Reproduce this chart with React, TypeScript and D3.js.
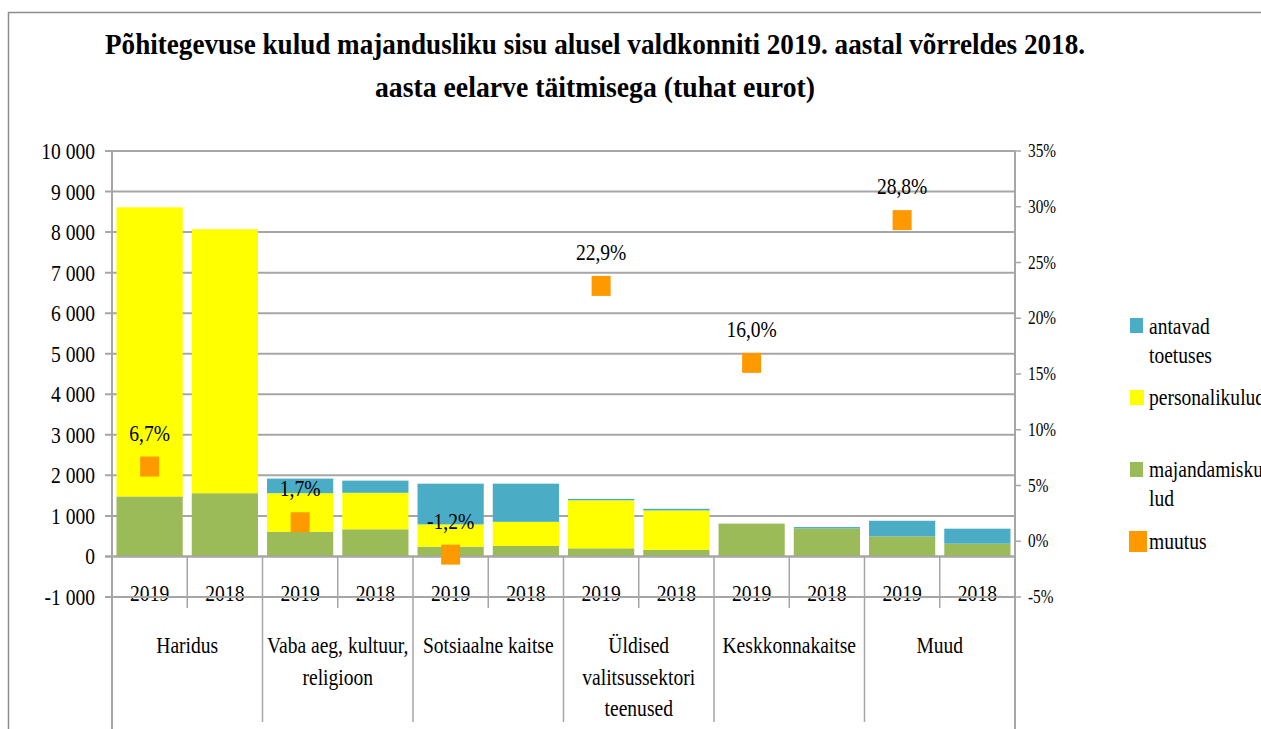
import React from "react";
import * as d3 from "d3";

const categoryLines: string[][] = [
  ["Haridus"],
  ["Vaba aeg, kultuur,", "religioon"],
  ["Sotsiaalne kaitse"],
  ["Üldised", "valitsussektori", "teenused"],
  ["Keskkonnakaitse"],
  ["Muud"],
];
const years = ["2019", "2018"];
// 12 bars: for each category, 2019 then 2018
const majandamiskulud = [1480, 1560, 610, 670, 240, 260, 200, 165, 810, 690, 495, 315];
const personalikulud = [7130, 6510, 950, 900, 550, 595, 1185, 970, 0, 0, 0, 0];
const antavadToetused = [0, 0, 360, 300, 1005, 940, 35, 40, 0, 35, 385, 370];
const muutus = [6.7, 1.7, -1.2, 22.9, 16.0, 28.8];
const leftTicks = [-1000, 0, 1000, 2000, 3000, 4000, 5000, 6000, 7000, 8000, 9000, 10000];
const rightTicks = [-5, 0, 5, 10, 15, 20, 25, 30, 35];

const W = 1261;
const H = 729;
const PL = 112;
const PR = 1015;
const PT = 151;
const PB = 597;
const FONT = "Liberation Serif, Times New Roman, Times, DejaVu Serif, serif";
const SX = 0.85;
const GRID = "#a6a6a6";

const C_BLUE = "#4bacc6";
const C_YEL = "#ffff00";
const C_GRN = "#9bbb59";
const C_ORG = "#ff9900";

function T(props: { x: number; y: number; size: number; anchor?: string; children: React.ReactNode; weight?: string }) {
  return (
    <text
      transform={`translate(${props.x},${props.y}) scale(${SX},1)`}
      style={{ fontFamily: FONT, fontSize: props.size + "px", fontWeight: props.weight || "normal" }}
      textAnchor={props.anchor || "start"}
      fill="#000"
    >
      {props.children}
    </text>
  );
}

export default function App() {
  const n = categoryLines.length * years.length;
  const x = d3.scaleBand<number>().domain(d3.range(n)).range([PL, PR]).padding(0);
  const step = x.step();
  const barW = step * 0.88;
  const yL = d3.scaleLinear().domain([-1000, 10000]).range([PB, PT]);
  const yR = d3.scaleLinear().domain([-5, 35]).range([PB, PT]);
  const fmtL = (v: number) => {
    const s = d3.format(",")(Math.abs(v)).replace(/,/g, " ");
    return (v < 0 ? "-" : "") + s;
  };
  const fmtPct = (v: number) =>
    (v < 0 ? "-" : "") + d3.format(".1f")(Math.abs(v)).replace(".", ",") + "%";

  const stack = d3.range(n).map((i) => {
    const g = majandamiskulud[i];
    const p = personalikulud[i];
    const b = antavadToetused[i];
    return [
      { y0: 0, y1: g, c: C_GRN },
      { y0: g, y1: g + p, c: C_YEL },
      { y0: g + p, y1: g + p + b, c: C_BLUE },
    ];
  });

  const y0 = yL(0);
  const groupW = step * 2;
  const mk = 19;
  const mh = 20;

  return (
    <svg
      width={W}
      height={H}
      style={{ position: "absolute", left: 0, top: 0, background: "#fff" }}
    >
      <rect x={0} y={0} width={W} height={H} fill="#fff" />
      {/* outer frame */}
      <rect x={8.5} y={12.5} width={W + 20} height={H + 20} fill="none" stroke="#8c8c8c" strokeWidth={1.5} />

      {/* title */}
      <text x={595} y={54} style={{ fontFamily: FONT, fontSize: "29px", fontWeight: "bold" }} textAnchor="middle" textLength={980} lengthAdjust="spacingAndGlyphs">
        Põhitegevuse kulud majandusliku sisu alusel valdkonniti 2019. aastal võrreldes 2018.
      </text>
      <text x={595} y={97} style={{ fontFamily: FONT, fontSize: "29px", fontWeight: "bold" }} textAnchor="middle" textLength={440} lengthAdjust="spacingAndGlyphs">
        aasta eelarve täitmisega (tuhat eurot)
      </text>

      {/* left gridlines + ticks */}
      {leftTicks.map((t) => (
        <g key={"l" + t}>
          <line x1={PL - 7} x2={PR} y1={yL(t)} y2={yL(t)} stroke={GRID} strokeWidth={2} />
          <T x={95} y={yL(t) + 8} size={23} anchor="end">{fmtL(t)}</T>
        </g>
      ))}
      {/* right ticks */}
      {rightTicks.map((t) => (
        <g key={"r" + t}>
          <line x1={PR} x2={PR + 6} y1={yR(t)} y2={yR(t)} stroke={GRID} strokeWidth={1.5} />
          <T x={1028} y={yR(t) + 6} size={18}>{t + "%"}</T>
        </g>
      ))}

      {/* bars */}
      {stack.map((segs, i) =>
        segs
          .filter((s) => s.y1 > s.y0)
          .map((s, j) => (
            <rect
              key={i + "-" + j}
              x={(x(i) as number) + (step - barW) / 2}
              y={yL(s.y1)}
              width={barW}
              height={yL(s.y0) - yL(s.y1)}
              fill={s.c}
            />
          ))
      )}

      {/* axes lines */}
      <line x1={PL} x2={PL} y1={PT} y2={H} stroke={GRID} strokeWidth={2} />
      <line x1={PR} x2={PR} y1={PT} y2={H} stroke={GRID} strokeWidth={2} />
      <line x1={PL - 7} x2={PR} y1={y0} y2={y0} stroke={GRID} strokeWidth={2} />

      {/* category separators */}
      {categoryLines.map((_, ci) => {
        const gx = PL + ci * groupW;
        const mid = gx + step;
        return (
          <g key={"sep" + ci}>
            {ci > 0 && <line x1={gx} x2={gx} y1={y0} y2={722} stroke={GRID} strokeWidth={1.5} />}
            <line x1={mid} x2={mid} y1={y0} y2={608} stroke={GRID} strokeWidth={1.5} />
          </g>
        );
      })}

      {/* year labels */}
      {d3.range(n).map((i) => (
        <T key={"yr" + i} x={(x(i) as number) + step / 2} y={601} size={23} anchor="middle">
          {years[i % 2]}
        </T>
      ))}
      {/* -1000 gridline drawn over year labels */}
      <line x1={PL - 7} x2={PR} y1={yL(-1000)} y2={yL(-1000)} stroke={GRID} strokeWidth={2} />

      {/* category labels */}
      {categoryLines.map((lines, ci) => (
        <g key={"cat" + ci}>
          {lines.map((ln, li) => (
            <T key={li} x={PL + ci * groupW + step} y={653 + li * 31.5} size={23} anchor="middle">
              {ln}
            </T>
          ))}
        </g>
      ))}

      {/* muutus markers */}
      {muutus.map((v, ci) => {
        const cx = (x(ci * 2) as number) + step / 2;
        const cy = yR(v);
        return (
          <g key={"m" + ci}>
            <rect x={cx - mk / 2} y={cy - mh / 2} width={mk} height={mh} fill={C_ORG} />
            <T x={cx} y={cy - 26} size={23} anchor="middle">{fmtPct(v)}</T>
          </g>
        );
      })}

      {/* legend */}
      <rect x={1130} y={318} width={13} height={15} fill={C_BLUE} />
      <T x={1149} y={334} size={23}>antavad</T>
      <T x={1149} y={363} size={23}>toetuses</T>
      <rect x={1130} y={390} width={14} height={15} fill={C_YEL} />
      <T x={1149} y={405} size={23}>personalikulud</T>
      <rect x={1130} y={462} width={13} height={15} fill={C_GRN} />
      <T x={1149} y={477} size={23}>majandamisku</T>
      <T x={1149} y={506} size={23}>lud</T>
      <rect x={1129} y={531} width={18} height={21} fill={C_ORG} />
      <T x={1149} y={549} size={23}>muutus</T>
    </svg>
  );
}
